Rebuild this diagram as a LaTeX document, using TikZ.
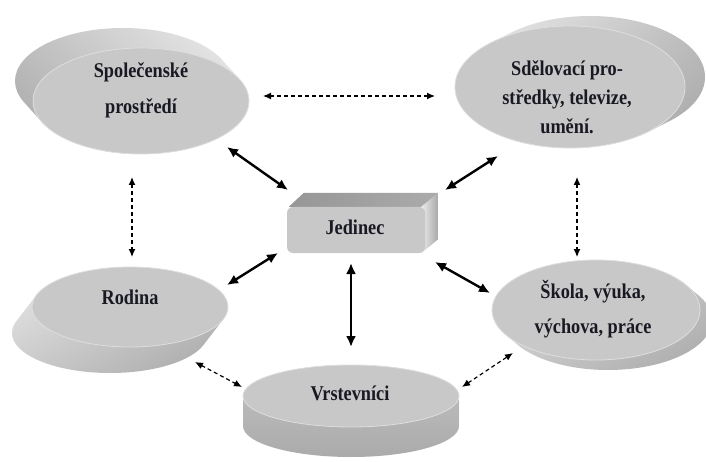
\documentclass[tikz,border=0pt]{standalone}
\usepackage{fontspec}
\setmainfont{Liberation Serif}[FakeStretch=0.87]
\usetikzlibrary{arrows.meta,calc,shapes.geometric}
\definecolor{facegray}{RGB}{200,200,200}
\definecolor{faceEdge}{RGB}{222,222,222}
\definecolor{sideLight}{RGB}{236,236,236}
\definecolor{sideMid}{RGB}{205,205,205}
\definecolor{sideDark}{RGB}{168,168,168}
\definecolor{boxTop}{RGB}{150,150,150}
\definecolor{txt}{RGB}{25,25,35}
\pgfdeclarelayer{back}
\pgfsetlayers{back,main}
\newcommand\mySlab[7]{%
  \begin{scope}
    \clip foreach \k in {0,...,30} {({#1+(#5)*\k/30},{#2+(#6)*\k/30}) ellipse ({#3} and {#4})};
    \shade[#7] ({#1-#3-40},{#2-#4-40}) rectangle ({#1+#3+40},{#2+#4+40});
  \end{scope}}
\tikzset{
  face/.style={ellipse, fill=facegray, draw=faceEdge, line width=0.8pt, inner sep=0pt},
  lbl/.style={font=\bfseries\fontsize{21}{36}\selectfont, align=center, text=txt, inner sep=0pt},
  solidarrow/.style={{Latex[length=11pt,width=10pt]}-{Latex[length=11pt,width=10pt]}, line width=2.4pt},
  dasharrow/.style={{Latex[length=8pt,width=7pt]}-{Latex[length=8pt,width=7pt]}, line width=1.2pt, dash pattern=on 4pt off 3pt},
}
\begin{document}
\begin{tikzpicture}[x=1pt,y=-1pt]
\begin{pgfonlayer}{back}
\fill[white] (0,0) rectangle (706,462);
\end{pgfonlayer}
\useasboundingbox (0,0) rectangle (706,462);

% Spolecenske prostredi
\mySlab{141}{101}{108}{53}{-18}{-20}{top color=sideLight, bottom color=sideDark, shading angle=-45}
\node[face, minimum width=216pt, minimum height=106pt] (spol) at (141,101) {};
\node[lbl] (spoltxt) at (141,90) {Společenské\\prostředí};

% Sdelovaci prostredky
\mySlab{570}{87}{115}{61}{20}{-10}{top color=sideLight, bottom color=sideDark, shading angle=45}
\node[face, minimum width=230pt, minimum height=122pt] (sdel) at (570,87) {};
\node[lbl, font=\bfseries\fontsize{21}{29}\selectfont] (sdeltxt) at (567,97) {Sdělovací pro-\\středky, televize,\\umění.};

% Rodina
\mySlab{130}{307}{98}{40}{-20}{26}{top color=sideLight, bottom color=sideDark, shading angle=30}
\node[face, minimum width=196pt, minimum height=80pt] (rod) at (130,307) {};
\node[lbl] (rodtxt) at (130,297) {Rodina};

% Skola
\mySlab{596}{310}{104}{50}{12}{10}{top color=sideLight, bottom color=sideDark, shading angle=30}
\node[face, minimum width=208pt, minimum height=100pt] (sk) at (596,310) {};
\node[lbl, font=\bfseries\fontsize{21}{35}\selectfont] (sktxt) at (593,309) {Škola, výuka,\\výchova, práce};

% Vrstevnici
\mySlab{351}{396}{108}{31}{0}{30}{top color=sideMid, bottom color=sideDark}
\node[face, minimum width=216pt, minimum height=62pt] (vrs) at (351,396) {};
\node[lbl] (vrstxt) at (350,393) {Vrstevníci};

% Jedinec box
\node[draw=none, fill=facegray, rounded corners=6pt, minimum width=138pt, minimum height=46pt, inner sep=0pt] (jed) at (356,230) {};
\begin{pgfonlayer}{back}
  \shade[left color=boxTop, right color=boxTop!80!white] ($(jed.north west)+(2,0)$) -- ++(15,-14) -- ($(jed.north east)+(13,-14)$) -- ($(jed.north east)+(0,0)$) -- cycle;
  \shade[left color=sideLight, right color=sideDark] ($(jed.north east)+(-4,0)$) -- ($(jed.north east)+(13,-14)$) -- ($(jed.south east)+(13,-14)$) -- ($(jed.south east)+(-4,0)$) -- cycle;
\end{pgfonlayer}
\node[lbl] (jedtxt) at (355,227) {Jedinec};

% solid arrows
\draw[solidarrow] ($(spol.center)+(86,46)$) -- ($(jed.center)+(-68,-40)$);
\draw[solidarrow] ($(sdel.center)+(-72,69)$) -- ($(jed.center)+(89,-40)$);
\draw[solidarrow] ($(rod.center)+(97,-22)$) -- ($(jed.center)+(-78,23)$);
\draw[solidarrow] ($(sk.center)+(-106,-17)$) -- ($(jed.center)+(79,32)$);
\draw[solidarrow] ($(vrs.center)+(0,-49)$) -- ($(jed.center)+(-5,33)$);

% dashed arrows
\draw[dasharrow] ($(spol.center)+(122,-5)$) -- ($(sdel.center)+(-135,9)$);
\draw[dasharrow] ($(spol.center)+(-9,76)$) -- ($(rod.center)+(2,-50)$);
\draw[dasharrow] ($(sdel.center)+(7,90)$) -- ($(sk.center)+(-19,-53)$);
\draw[dasharrow] ($(rod.center)+(65,55)$) -- ($(vrs.center)+(-109,-9)$);
\draw[dasharrow] ($(vrs.center)+(111,-9)$) -- ($(sk.center)+(-83,43)$);
\end{tikzpicture}
\end{document}
